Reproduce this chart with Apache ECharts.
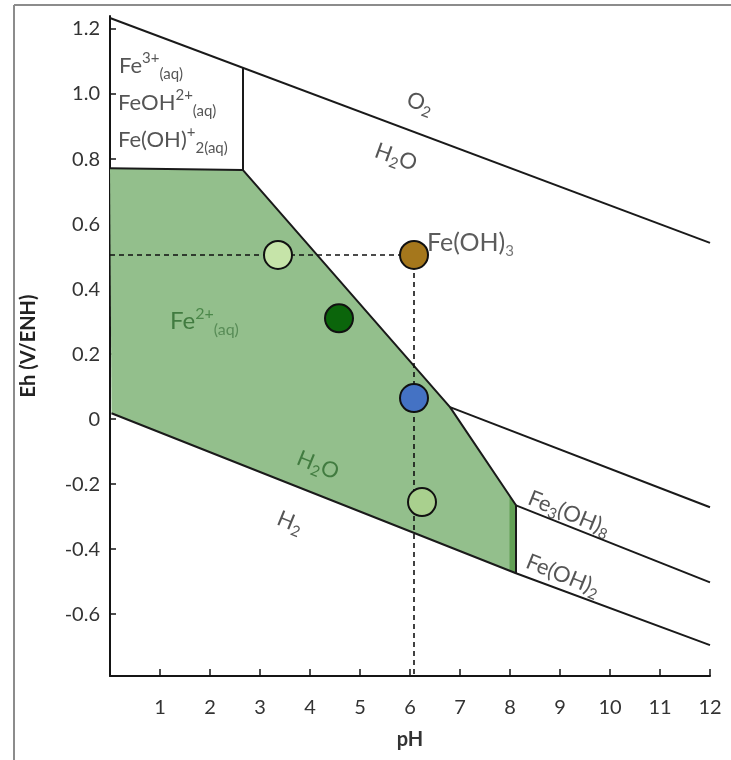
<!DOCTYPE html>
<html><head><meta charset="utf-8">
<script src="https://cdn.jsdelivr.net/npm/echarts@6/dist/echarts.min.js"></script>
<style>html,body{margin:0;padding:0;background:#fff}#c{width:731px;height:760px}</style>
</head><body><div id="c"></div>
<script>
// ---- data (pH, Eh in V) ----
const yTickValues = [-0.6, -0.4, -0.2, 0, 0.2, 0.4, 0.6, 0.8, 1.0, 1.2];
const o2Line = [[0, 1.234], [12, 0.542]];
const fe3Boundary = [[2.66, 1.08], [2.66, 0.766]];
const fe2Region = [[0, 0.772], [2.66, 0.766], [6.8, 0.037], [8.12, -0.265], [8.12, -0.474], [0.03, 0.018]];
const fe2Outline = [[0, 0.772], [2.66, 0.766], [6.8, 0.037], [8.12, -0.265], [8.12, -0.474]];
const h2Line = [[0.03, 0.018], [8.12, -0.474], [12, -0.695]];
const fe3oh8Upper = [[6.8, 0.037], [12, -0.271]];
const fe3oh8Lower = [[8.12, -0.265], [12, -0.502]];
const edgeStrip = [[7.99, -0.236], [8.12, -0.265], [8.12, -0.474], [7.99, -0.466]];
const guideH = [[0, 0.505], [6.08, 0.505]];
const guideV = [[6.08, 0.505], [6.08, -0.79]];
const samplePoints = [[3.36, 0.505], [4.58, 0.31], [6.08, 0.505], [6.08, 0.065], [6.24, -0.255]];
const sampleColors = ['#c6e4a9', '#0b650b', '#a5771c', '#4472c4', '#a9d08e'];

// ---- annotation texts ----
const annotations = [
  { at: [0.18, 1.086], text: '{m|Fe}{sup|3+}{sub|(aq)}', align: 'left', rot: 0, style: 'ion' },
  { at: [0.16, 0.972], text: '{m|FeOH}{sup|2+}{sub|(aq)}', align: 'left', rot: 0, style: 'ion' },
  { at: [0.16, 0.858], text: '{m|Fe(OH)}{sup|+}{sub|2(aq)}', align: 'left', rot: 0, style: 'ion' },
  { at: [6.2, 0.972], text: '{m|O}{s|2}', align: 'center', rot: -20, style: 'chem' },
  { at: [5.72, 0.806], text: '{m|H}{s|2}{m|O}', align: 'center', rot: -20, style: 'chem' },
  { at: [6.34, 0.541], text: '{m|Fe(OH)}{s|3}', align: 'left', rot: 0, style: 'chemBig' },
  { at: [1.2, 0.3], text: '{m|Fe}{sup|2+}{sub|(aq)}', align: 'left', rot: 0, style: 'ionGreen' },
  { at: [4.16, -0.142], text: '{m|H}{s|2}{m|O}', align: 'center', rot: -22, style: 'chemGreen' },
  { at: [3.6, -0.317], text: '{m|H}{s|2}', align: 'center', rot: -22, style: 'chem' },
  { at: [9.18, -0.29], text: '{m|Fe}{s|3}{m|(OH)}{s|8}', align: 'center', rot: -22, style: 'chem' },
  { at: [9.06, -0.48], text: '{m|Fe(OH)}{s|2}', align: 'center', rot: -22, style: 'chem' }
];

const FONT = 'Lato, "Noto Sans", sans-serif';
const richSets = {
  ion: {
    m: { fontFamily: FONT, fontSize: 22, lineHeight: 31, color: '#2b2b2b' },
    sup: { fontFamily: FONT, fontSize: 15, verticalAlign: 'top', color: '#2b2b2b' },
    sub: { fontFamily: FONT, fontSize: 15, verticalAlign: 'bottom', color: '#2b2b2b' }
  },
  ionGreen: {
    m: { fontFamily: FONT, fontSize: 24, lineHeight: 32, color: '#2d6a2d' },
    sup: { fontFamily: FONT, fontSize: 16, verticalAlign: 'top', color: '#3a7a3a' },
    sub: { fontFamily: FONT, fontSize: 16, verticalAlign: 'bottom', color: '#4a804a' }
  },
  chem: {
    m: { fontFamily: FONT, fontSize: 22, lineHeight: 28, color: '#2b2b2b' },
    s: { fontFamily: FONT, fontSize: 15, verticalAlign: 'bottom', color: '#2b2b2b' }
  },
  chemGreen: {
    m: { fontFamily: FONT, fontSize: 22, lineHeight: 28, color: '#2d6a2d' },
    s: { fontFamily: FONT, fontSize: 15, verticalAlign: 'bottom', color: '#2d6a2d' }
  },
  chemBig: {
    m: { fontFamily: FONT, fontSize: 25, lineHeight: 30, color: '#333' },
    s: { fontFamily: FONT, fontSize: 15, verticalAlign: 'bottom', color: '#555' }
  }
};

function lineSeries(data, extra) {
  return Object.assign({
    type: 'line', data: data, symbol: 'none', silent: true, z: 3,
    lineStyle: { color: '#1a1a1a', width: 2 }
  }, extra || {});
}
function polygonSeries(points, fill, z) {
  return {
    type: 'custom', silent: true, z: z, data: [[0, 0]],
    renderItem: function (params, api) {
      return { type: 'polygon', shape: { points: points.map(function (p) { return api.coord(p); }) }, style: { fill: fill } };
    }
  };
}

const chart = echarts.init(document.getElementById('c'), null, { renderer: 'canvas' });
const option = {
  backgroundColor: '#fff',
  animation: false,
  grid: { left: 110, right: 21, top: 16, bottom: 84, containLabel: false },
  xAxis: {
    type: 'value', min: 0, max: 12, interval: 1,
    axisLine: { show: true, onZero: false, lineStyle: { color: '#151515', width: 2 } },
    axisTick: { show: true, inside: true, length: 7, lineStyle: { color: '#151515', width: 1.5 } },
    axisLabel: { formatter: function (v) { return v === 0 ? '' : String(v); }, fontFamily: FONT, fontSize: 20, color: '#333', margin: 22 },
    splitLine: { show: false },
    name: 'pH', nameLocation: 'middle', nameGap: 54,
    nameTextStyle: { fontFamily: FONT, fontWeight: 'bold', fontSize: 20, color: '#333' }
  },
  yAxis: {
    type: 'value', min: -0.79, max: 1.24,
    axisLine: { show: true, onZero: false, lineStyle: { color: '#151515', width: 2 } },
    axisTick: { show: true, inside: true, length: 6, customValues: yTickValues, lineStyle: { color: '#151515', width: 1.5 } },
    axisLabel: { customValues: yTickValues, formatter: function (v) { return Math.abs(v) < 1e-9 ? '0' : v.toFixed(1); }, fontFamily: FONT, fontSize: 20, color: '#333', margin: 10 },
    splitLine: { show: false },
    name: 'Eh (V/ENH)', nameLocation: 'middle', nameGap: 71,
    nameTextStyle: { fontFamily: FONT, fontWeight: 'bold', fontSize: 20, color: '#222' }
  },
  graphic: [
    { type: 'line', shape: { x1: 14, y1: 5, x2: 731, y2: 5 }, style: { stroke: '#8c8c8c', lineWidth: 2 }, silent: true },
    { type: 'line', shape: { x1: 14, y1: 5, x2: 14, y2: 760 }, style: { stroke: '#8c8c8c', lineWidth: 2 }, silent: true }
  ],
  series: [
    polygonSeries(fe2Region, '#93bf8c', 1),
    polygonSeries(edgeStrip, '#62a055', 2),
    lineSeries(o2Line),
    lineSeries(fe3Boundary),
    lineSeries(fe2Outline),
    lineSeries(h2Line),
    lineSeries(fe3oh8Upper),
    lineSeries(fe3oh8Lower),
    lineSeries(guideH, { lineStyle: { color: '#111', width: 1.6, type: [5, 4] }, z: 4 }),
    lineSeries(guideV, { lineStyle: { color: '#111', width: 1.6, type: [5, 4] }, z: 4 }),
    {
      type: 'scatter', silent: true, z: 6, symbolSize: 28,
      data: samplePoints.map(function (p, i) {
        return { value: p, itemStyle: { color: sampleColors[i], borderColor: '#111', borderWidth: 2, opacity: 1 } };
      })
    },
    {
      type: 'scatter', silent: true, z: 7, symbolSize: 1,
      itemStyle: { color: 'rgba(0,0,0,0)' },
      data: annotations.map(function (a) {
        return {
          value: a.at,
          label: {
            show: true, position: 'inside', formatter: a.text, align: a.align, verticalAlign: 'middle',
            rotate: a.rot, rich: richSets[a.style]
          }
        };
      })
    }
  ]
};
chart.setOption(option);
</script>
</body></html>
